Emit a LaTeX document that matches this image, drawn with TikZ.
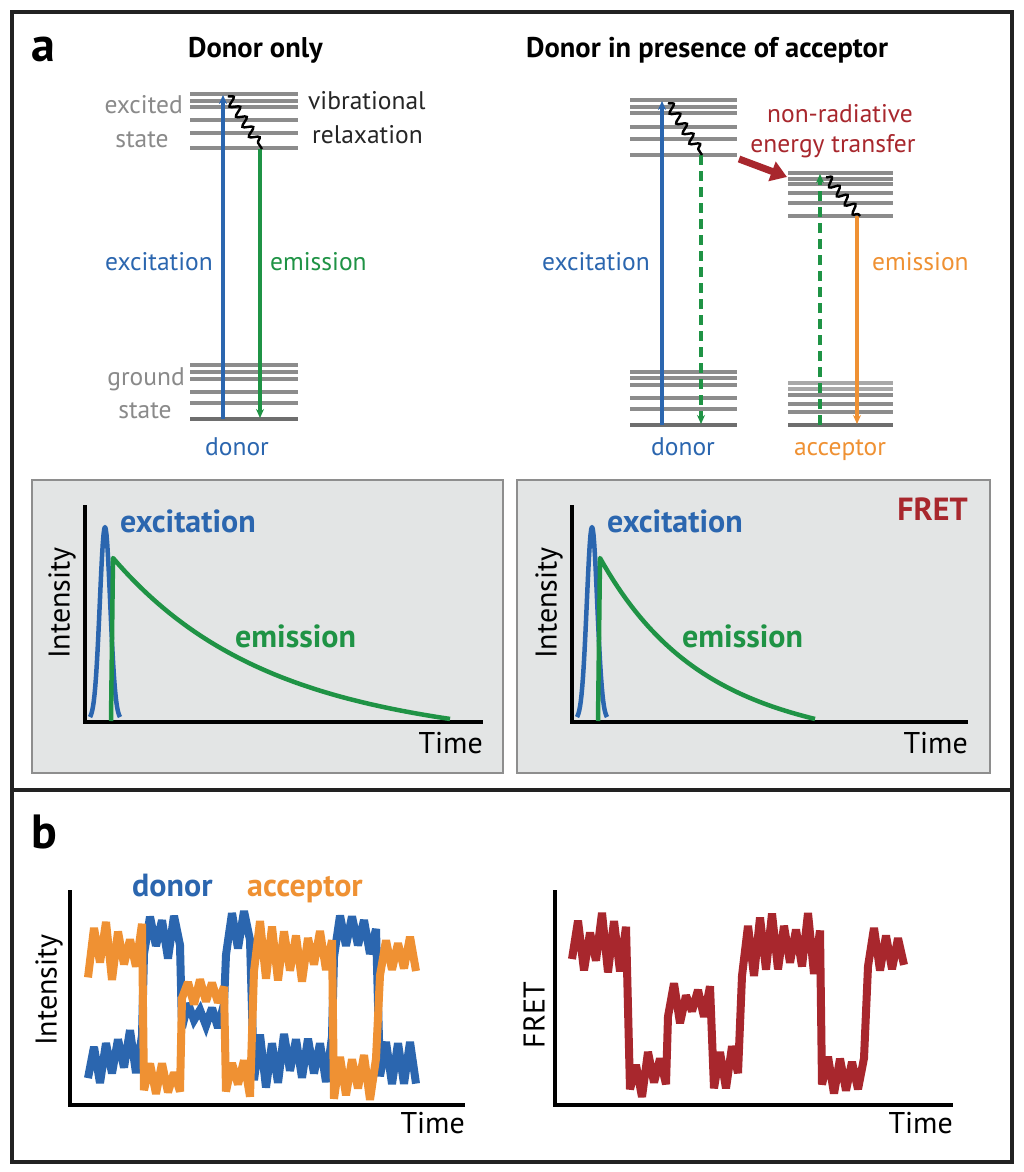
\documentclass[tikz,border=0pt]{standalone}
\usepackage{fontspec}
\setmainfont{PT Sans}
\usetikzlibrary{arrows.meta,decorations.pathmorphing}
\definecolor{blueC}{HTML}{2B66AF}
\definecolor{greenC}{HTML}{1F9345}
\definecolor{orangeC}{HTML}{EF9133}
\definecolor{redC}{HTML}{A8272D}
\definecolor{levelC}{HTML}{8C8C8C}
\definecolor{levelD}{HTML}{6E6E6E}
\definecolor{levelL}{HTML}{A8A8A8}
\definecolor{grayT}{HTML}{8A8A8A}
\definecolor{boxC}{HTML}{E3E5E5}
\definecolor{boxD}{HTML}{8E8E8E}
\definecolor{frameC}{HTML}{222222}
\begin{document}
\begin{tikzpicture}[x=1pt,y=-1pt,
  lvl/.style={draw=levelC, line width=3.4pt},
  lvlb/.style={draw=levelD, line width=4.6pt},
  lvll/.style={draw=levelL, line width=4.4pt},
  lbl/.style={inner sep=0pt, font=\fontsize{25.5}{27}\selectfont},
  blbl/.style={inner sep=0pt, font=\bfseries\fontsize{28.5}{30}\selectfont},
  pblbl/.style={inner sep=0pt, font=\bfseries\fontsize{32}{34}\selectfont},
  plbl/.style={inner sep=0pt, font=\fontsize{30}{32}\selectfont},
  arrtip/.style={-{Stealth[length=9pt,width=8pt]}},
  vline/.style={line width=3.4pt, arrtip},
  dline/.style={line width=3.4pt, arrtip, dash pattern=on 10pt off 6pt},
  wavy/.style={draw=black, line width=2.4pt, decorate,
    decoration={snake, segment length=12pt, amplitude=4.5pt, post length=2pt}},
  axisl/.style={draw=black, line width=4.5pt},
  pbox/.style={fill=boxC, draw=boxD, line width=2.2pt},
  trace/.style={line width=8pt, line join=miter, miter limit=3},
  pulse/.style={line width=4.5pt, draw=blueC, line join=round},
  decay/.style={line width=4.5pt, draw=greenC, line join=round}
]
\useasboundingbox (0,0) rectangle (1024,1172);
\fill[white] (0,0) rectangle (1024,1172);

% frame
\draw[frameC, line width=4pt] (12,12) rectangle (1012,1162);
\draw[frameC, line width=4pt] (12,790) -- (1012,790);

% panel labels
\node[inner sep=0pt, anchor=base, font=\bfseries\fontsize{48}{50}\selectfont] (la) at (43,62) {a};
\node[inner sep=0pt, anchor=base, font=\bfseries\fontsize{48}{50}\selectfont] (lb) at (44,848) {b};

% titles
\node[blbl, anchor=base west] (t1) at (188,58) {Donor only};
\node[blbl, anchor=base west] (t2) at (526,58) {Donor in presence of acceptor};

% ---------- donor only levels ----------
\foreach \y in {94,101,107,120,133,148} \draw[lvl] (190,\y) -- (298,\y);
\foreach \y in {365,372,379,392,403} \draw[lvl] (190,\y) -- (298,\y);
\draw[lvlb] (190,419) -- (298,419);

\coordinate (dlG) at (223,419);
\coordinate (dlE) at (223,95);
\coordinate (dlW1) at (228,96);
\coordinate (dlW2) at (262,149);
\coordinate (dlEm) at (260,149);
\coordinate (dlGm) at (260,418);
\draw[vline, blueC] (dlG) -- (dlE);
\draw[vline, greenC] (dlEm) -- (dlGm);
\draw[wavy] (dlW1) -- (dlW2);

\node[lbl, text=grayT, anchor=base east] (exc1) at (183,113) {excited};
\node[lbl, text=grayT, anchor=base] (st1) at (142,147) {state};
\node[lbl, text=black!85, anchor=base west] (vib) at (308,109) {vibrational};
\node[lbl, text=black!85, anchor=base west] (rel) at (312,143) {relaxation};
\node[lbl, text=blueC, anchor=base east] (ex1) at (213,270) {excitation};
\node[lbl, text=greenC, anchor=base west] (em1) at (270,270) {emission};
\node[lbl, text=grayT, anchor=base east] (gr1) at (185,385) {ground};
\node[lbl, text=grayT, anchor=base] (st2) at (145,418) {state};
\node[lbl, text=blueC, anchor=base] (don1) at (237,455) {donor};

% ---------- donor with acceptor ----------
\foreach \y in {100,107,113,127,139,155} \draw[lvl] (630,\y) -- (737,\y);
\foreach \y in {372,378,385,398,409} \draw[lvl] (630,\y) -- (737,\y);
\draw[lvlb] (630,425) -- (737,425);

\foreach \y in {173,179,184,193,203,216} \draw[lvl] (788,\y) -- (893,\y);
\foreach \y in {383,389} \draw[lvll] (788,\y) -- (893,\y);
\foreach \y in {395,404,412} \draw[lvl] (788,\y) -- (893,\y);
\draw[lvlb] (788,425) -- (893,425);

\coordinate (drG) at (662,425);
\coordinate (drE) at (662,101);
\coordinate (drW1) at (668,103);
\coordinate (drW2) at (702,155);
\coordinate (drEm) at (701,155);
\coordinate (drGm) at (701,424);
\draw[vline, blueC] (drG) -- (drE);
\draw[dline, greenC] (drEm) -- (drGm);
\draw[wavy] (drW1) -- (drW2);

\coordinate (acG) at (820,425);
\coordinate (acE) at (820,174);
\coordinate (acW1) at (826,177);
\coordinate (acW2) at (860,216);
\coordinate (acEm) at (857,216);
\coordinate (acGm) at (857,424);
\draw[dline, greenC] (acG) -- (acE);
\draw[vline, orangeC] (acEm) -- (acGm);
\draw[wavy] (acW1) -- (acW2);

\coordinate (ra1) at (739,159);
\coordinate (ra2) at (787,177);
\draw[redC, line width=7pt, -{Triangle[length=16pt,width=20pt]}] (ra1) -- (ra2);

\node[lbl, text=redC, anchor=base] (nr) at (840,122) {non-radiative};
\node[lbl, text=redC, anchor=base] (et) at (833,152) {energy transfer};
\node[lbl, text=blueC, anchor=base east] (ex2) at (650,270) {excitation};
\node[lbl, text=orangeC, anchor=base west] (em2) at (872,270) {emission};
\node[lbl, text=blueC, anchor=base] (don2) at (683,455) {donor};
\node[lbl, text=orangeC, anchor=base] (acc) at (840,455) {acceptor};

% ---------- lifetime boxes ----------
\draw[pbox] (32,480) rectangle (503,773);
\draw[pbox] (517,480) rectangle (990,773);

% left plot
\draw[axisl] (85,505) -- (85,722) -- (483,722);
\draw[pulse] plot[domain=90:120, samples=41] (\x,{720-193*exp(-((\x-105)^2)/(2*5.2*5.2))});
\draw[decay] (111,721) -- (113,558) -- plot[domain=113:450, samples=60] (\x,{722-164*exp(-(\x-113)/145)+13*(\x-113)/337});
\node[pblbl, text=blueC, anchor=base west] (pe1) at (120,532) {excitation};
\node[pblbl, text=greenC, anchor=base west] (pm1) at (235,647) {emission};
\node[plbl, rotate=90, anchor=center] (pi1) at (62,603) {Intensity};
\node[plbl, anchor=base east] (pt1) at (483,753) {Time};

% right plot
\draw[axisl] (572,505) -- (572,722) -- (968,722);
\draw[pulse] plot[domain=577:607, samples=41] (\x,{720-193*exp(-((\x-592)^2)/(2*5.2*5.2))});
\draw[decay] (598,721) -- (600,558) -- plot[domain=600:815, samples=50] (\x,{722-164*exp(-(\x-600)/95)+14*(\x-600)/215});
\node[pblbl, text=blueC, anchor=base west] (pe2) at (607,532) {excitation};
\node[pblbl, text=greenC, anchor=base west] (pm2) at (682,647) {emission};
\node[pblbl, text=redC, anchor=base east] (fr) at (968,520) {FRET};
\node[plbl, rotate=90, anchor=center] (pi2) at (549,603) {Intensity};
\node[plbl, anchor=base east] (pt2) at (968,753) {Time};

% ---------- panel b ----------
\pgfmathsetseed{4242}
\draw[axisl] (70,890) -- (70,1105) -- (465,1105);
\draw[trace, blueC]
     plot[domain=88:142, samples=10] (\x,{1057+cos(180*round((\x-88)/6))*(10+20*rnd)})
  -- plot[domain=144:180, samples=7] (\x,{935+cos(180*round((\x-144)/6))*(8+16*rnd)})
  -- plot[domain=182:224, samples=8] (\x,{1015+cos(180*round((\x-182)/6))*(5+10*rnd)})
  -- plot[domain=226:250, samples=5] (\x,{930+cos(180*round((\x-226)/6))*(8+17*rnd)})
  -- plot[domain=254:332, samples=14] (\x,{1060+cos(180*round((\x-254)/6))*(10+20*rnd)})
  -- plot[domain=334:376, samples=8] (\x,{937+cos(180*round((\x-334)/6))*(8+16*rnd)})
  -- plot[domain=380:416, samples=7] (\x,{1062+cos(180*round((\x-380)/6))*(8+15*rnd)});
\draw[trace, orangeC]
     plot[domain=88:142, samples=10] (\x,{951+cos(180*round((\x-88)/6))*(11+22*rnd)})
  -- plot[domain=144:180, samples=7] (\x,{1080+cos(180*round((\x-144)/6))*(7+13*rnd)})
  -- plot[domain=182:224, samples=8] (\x,{993+cos(180*round((\x-182)/6))*(5+10*rnd)})
  -- plot[domain=226:250, samples=5] (\x,{1075+cos(180*round((\x-226)/6))*(8+15*rnd)})
  -- plot[domain=254:332, samples=14] (\x,{952+cos(180*round((\x-254)/6))*(11+22*rnd)})
  -- plot[domain=334:376, samples=8] (\x,{1077+cos(180*round((\x-334)/6))*(8+15*rnd)})
  -- plot[domain=380:416, samples=7] (\x,{953+cos(180*round((\x-380)/6))*(8+17*rnd)});
\node[pblbl, text=blueC, anchor=base west] (bd) at (132,896) {donor};
\node[pblbl, text=orangeC, anchor=base west] (ba) at (247,896) {acceptor};
\node[plbl, rotate=90, anchor=center] (bi) at (49,990) {Intensity};
\node[plbl, anchor=base east] (bt1) at (465,1133) {Time};

\draw[axisl] (555,890) -- (555,1105) -- (953,1105);
\draw[trace, redC]
     plot[domain=572:626, samples=10] (\x,{945+cos(180*round((\x-572)/6))*(11+22*rnd)})
  -- plot[domain=630:666, samples=7] (\x,{1073+cos(180*round((\x-630)/6))*(8+16*rnd)})
  -- plot[domain=668:710, samples=8] (\x,{1003+cos(180*round((\x-668)/6))*(7+14*rnd)})
  -- plot[domain=714:738, samples=5] (\x,{1065+cos(180*round((\x-714)/6))*(8+16*rnd)})
  -- plot[domain=742:820, samples=14] (\x,{945+cos(180*round((\x-742)/6))*(11+22*rnd)})
  -- plot[domain=822:864, samples=8] (\x,{1072+cos(180*round((\x-822)/6))*(8+16*rnd)})
  -- plot[domain=868:904, samples=7] (\x,{950+cos(180*round((\x-868)/6))*(8+16*rnd)});
\node[plbl, rotate=90, anchor=center] (bf) at (534,1015) {FRET};
\node[plbl, anchor=base east] (bt2) at (953,1133) {Time};
\end{tikzpicture}
\end{document}
